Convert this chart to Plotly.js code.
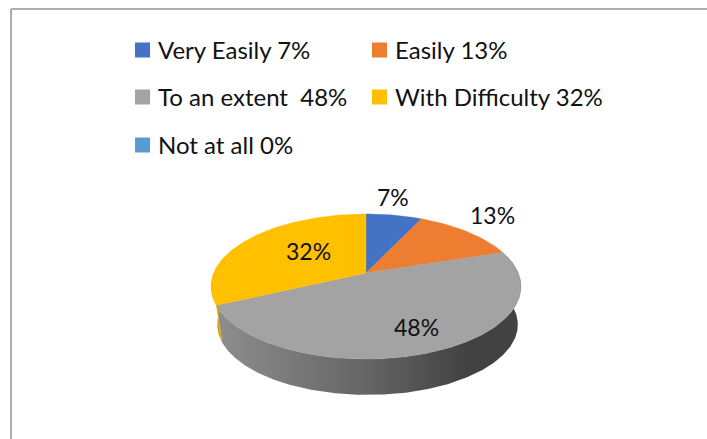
<!DOCTYPE html>
<html><head><meta charset="utf-8">
<script src="https://cdn.plot.ly/plotly-3.0.1.min.js"></script>
<style>html,body{margin:0;padding:0;background:#fff}#c{width:707px;height:439px}</style></head>
<body><div id="c"></div>
<script>
const categories=["Very Easily","Easily","To an extent","With Difficulty","Not at all"];
const legendLabels=["Very Easily 7%","Easily 13%","To an extent  48%","With Difficulty 32%","Not at all 0%"];
const values=[7,13,48,32,0];
const colors=["#4472C4","#ED7D31","#A3A3A3","#FFC000","#5B9BD5"];
const sideColors=["#2f5597","#b85f22","#808080","#DDA604","#41719C"];
const labelX=[393,492,416,308];
const labelY=[197,215,327,251];
const legendX=[135,372,135,372,135];
const legendY=[50,50,97,97,145];

// pie geometry: perspective projection of a unit disc on to the page
const cx=366,cy=273,a=152.3,b=70,k=0.186,drop=38.5,lowScale=0.97,lowShift=1.5;
function proj(t,lower){
  const x=Math.sin(t),y=Math.cos(t),w=1+k*y,s=lower?lowScale:1;
  return [cx+(lower?lowShift:0)+s*a*x/w, cy+(lower?drop:0)-s*b*y/w];
}
const total=values.reduce((p,v)=>p+v,0);
const rad=p=>p/total*2*Math.PI;
let cum=0;
const sides=[],tops=[];
values.forEach((v,i)=>{
  if(!v)return;
  const t0=rad(cum),t1=rad(cum+v);cum+=v;
  const n=Math.max(8,Math.round(v*3));
  const xs=[cx],ys=[cy];
  for(let j=0;j<=n;j++){const p=proj(t0+(t1-t0)*j/n);xs.push(p[0]);ys.push(p[1]);}
  xs.push(cx);ys.push(cy);
  tops.push({type:'scatter',mode:'lines',x:xs,y:ys,fill:'toself',fillcolor:colors[i],line:{width:0.4,color:colors[i]},hoverinfo:'text',text:categories[i]+' '+v+'%',showlegend:false});
  const s0=Math.max(t0,Math.PI*0.42),s1=Math.min(t1,Math.PI*1.58);
  if(s1>s0){
    const sx=[],sy=[];
    for(let j=0;j<=n*2;j++){const p=proj(s0+(s1-s0)*j/(n*2));sx.push(p[0]);sy.push(p[1]);}
    for(let j=n*2;j>=0;j--){const p=proj(s0+(s1-s0)*j/(n*2),true);sx.push(p[0]);sy.push(p[1]);}
    sx.push(sx[0]);sy.push(sy[0]);
    const tr={type:'scatter',mode:'lines',x:sx,y:sy,fill:'toself',line:{width:0},hoverinfo:'skip',showlegend:false};
    if(i===2){
      tr.fillgradient={type:'horizontal',colorscale:[[0,'#8e8e8e'],[0.5,'#646464'],[0.82,'#424242'],[1,'#424242']]};
    } else tr.fillcolor=sideColors[i];
    sides.push(tr);
  }
});
const font="Lato, sans-serif";
const annotations=[];
values.forEach((v,i)=>{ if(v) annotations.push({x:labelX[i],y:labelY[i],text:v+'%',showarrow:false,xanchor:'center',yanchor:'middle',font:{family:font,size:23,color:'#111'}}); });
const shapes=[
 {type:'line',x0:11,x1:707,y0:9,y1:9,line:{color:'#ADADAD',width:2}},
 {type:'line',x0:11,x1:11,y0:9,y1:439,line:{color:'#ADADAD',width:2}}
];
legendLabels.forEach((t,i)=>{
  annotations.push({x:legendX[i]+21,y:legendY[i]-1,text:t,showarrow:false,xanchor:'left',yanchor:'middle',font:{family:font,size:24,color:'#111'}});
  shapes.push({type:'rect',x0:legendX[i],x1:legendX[i]+15,y0:legendY[i]-7.5,y1:legendY[i]+7.5,fillcolor:colors[i],line:{width:0}});
});
Plotly.newPlot('c',[...sides,...tops],{
  width:707,height:439,margin:{l:0,r:0,t:0,b:0},paper_bgcolor:'#fff',plot_bgcolor:'#fff',showlegend:false,
  xaxis:{range:[0,707],visible:false,fixedrange:true},
  yaxis:{range:[439,0],visible:false,fixedrange:true},
  annotations,shapes
},{staticPlot:true,displayModeBar:false});
</script></body></html>
